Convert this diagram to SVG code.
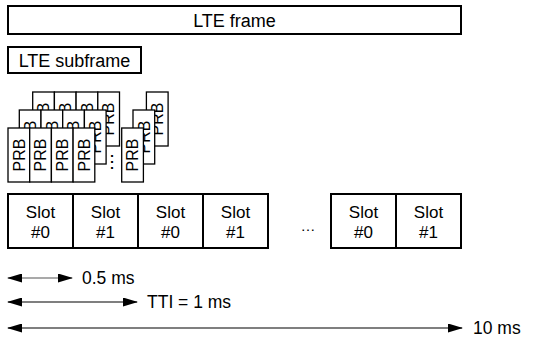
<svg xmlns="http://www.w3.org/2000/svg" xmlns:xlink="http://www.w3.org/1999/xlink" width="542" height="339" viewBox="0 0 542 339">
  <style>
    text { font-family: "Liberation Sans", Arial, sans-serif; fill: #000; }
    .box { fill: #fff; stroke: #000; stroke-width: 2; }
    .prb { fill: #fff; stroke: #000; stroke-width: 1.3; }
    .prbt { font-size: 16px; text-anchor: middle; }
    .t18 { font-size: 18px; text-anchor: middle; }
    .t17 { font-size: 17px; text-anchor: middle; }
    .lbl { font-size: 17.5px; }
    .arr { stroke: #000; stroke-width: 1.2; fill: none; marker-start: url(#ah); marker-end: url(#ah); }
  </style>
  <defs>
    <marker id="ah" viewBox="0 0 15 9" refX="14" refY="4.5" markerWidth="15" markerHeight="9" markerUnits="userSpaceOnUse" orient="auto-start-reverse">
      <path d="M0,0 L15,4.5 L0,9 Z" fill="#000"/>
    </marker>
    <g id="prbLayer">
      <rect class="prb" x="8" y="128" width="21.7" height="54"/>
      <text class="prbt" transform="translate(18.85,155) rotate(-90)" y="5.8">PRB</text>
      <rect class="prb" x="29.7" y="128" width="21.7" height="54"/>
      <text class="prbt" transform="translate(40.55,155) rotate(-90)" y="5.8">PRB</text>
      <rect class="prb" x="51.4" y="128" width="21.7" height="54"/>
      <text class="prbt" transform="translate(62.25,155) rotate(-90)" y="5.8">PRB</text>
      <rect class="prb" x="73.1" y="128" width="21.7" height="54"/>
      <text class="prbt" transform="translate(83.95,155) rotate(-90)" y="5.8">PRB</text>
      <text style="font-size:19px;text-anchor:middle" transform="translate(110,162) rotate(-90)" y="3">…</text>
      <rect class="prb" x="121.7" y="128" width="21.7" height="54"/>
      <text class="prbt" transform="translate(132.55,155) rotate(-90)" y="5.8">PRB</text>
    </g>
  </defs>

  <g id="lte-frame">
    <rect class="box" x="8" y="6" width="453" height="28"/>
    <text class="t18" x="234.5" y="26.5">LTE frame</text>
  </g>

  <g id="lte-subframe">
    <rect class="box" x="8" y="47" width="133" height="26"/>
    <text class="t18" x="74.5" y="66.5">LTE subframe</text>
  </g>

  <g id="prb-back"><use xlink:href="#prbLayer" transform="translate(24.7,-36)"/></g>
  <g id="prb-middle"><use xlink:href="#prbLayer" transform="translate(11.3,-18)"/></g>
  <g id="prb-front"><use xlink:href="#prbLayer"/></g>

  <g id="slot-1">
    <rect class="box" x="8" y="194" width="65" height="54"/>
    <text class="t17" x="40.5" y="218">Slot</text>
    <text class="t17" x="40.5" y="238">#0</text>
  </g>
  <g id="slot-2">
    <rect class="box" x="73" y="194" width="65" height="54"/>
    <text class="t17" x="105.5" y="218">Slot</text>
    <text class="t17" x="105.5" y="238">#1</text>
  </g>
  <g id="slot-3">
    <rect class="box" x="138" y="194" width="65" height="54"/>
    <text class="t17" x="170.5" y="218">Slot</text>
    <text class="t17" x="170.5" y="238">#0</text>
  </g>
  <g id="slot-4">
    <rect class="box" x="203" y="194" width="65" height="54"/>
    <text class="t17" x="235.5" y="218">Slot</text>
    <text class="t17" x="235.5" y="238">#1</text>
  </g>
  <g id="slot-gap">
    <text style="font-size:15px;text-anchor:middle" x="308" y="231">…</text>
  </g>
  <g id="slot-5">
    <rect class="box" x="331" y="194" width="65" height="54"/>
    <text class="t17" x="363.5" y="218">Slot</text>
    <text class="t17" x="363.5" y="238">#0</text>
  </g>
  <g id="slot-6">
    <rect class="box" x="396" y="194" width="65" height="54"/>
    <text class="t17" x="428.5" y="218">Slot</text>
    <text class="t17" x="428.5" y="238">#1</text>
  </g>

  <g id="connectors">
    <line class="arr" x1="8" y1="278" x2="72" y2="278" style="stroke:#555"/>
    <line class="arr" x1="8" y1="302" x2="137" y2="302"/>
    <line class="arr" x1="8" y1="328" x2="462" y2="328"/>
  </g>
  <g id="labels">
    <text class="lbl" x="82" y="284">0.5 ms</text>
    <text class="lbl" x="147" y="308">TTI = 1 ms</text>
    <text class="lbl" x="473" y="334">10 ms</text>
  </g>
</svg>
